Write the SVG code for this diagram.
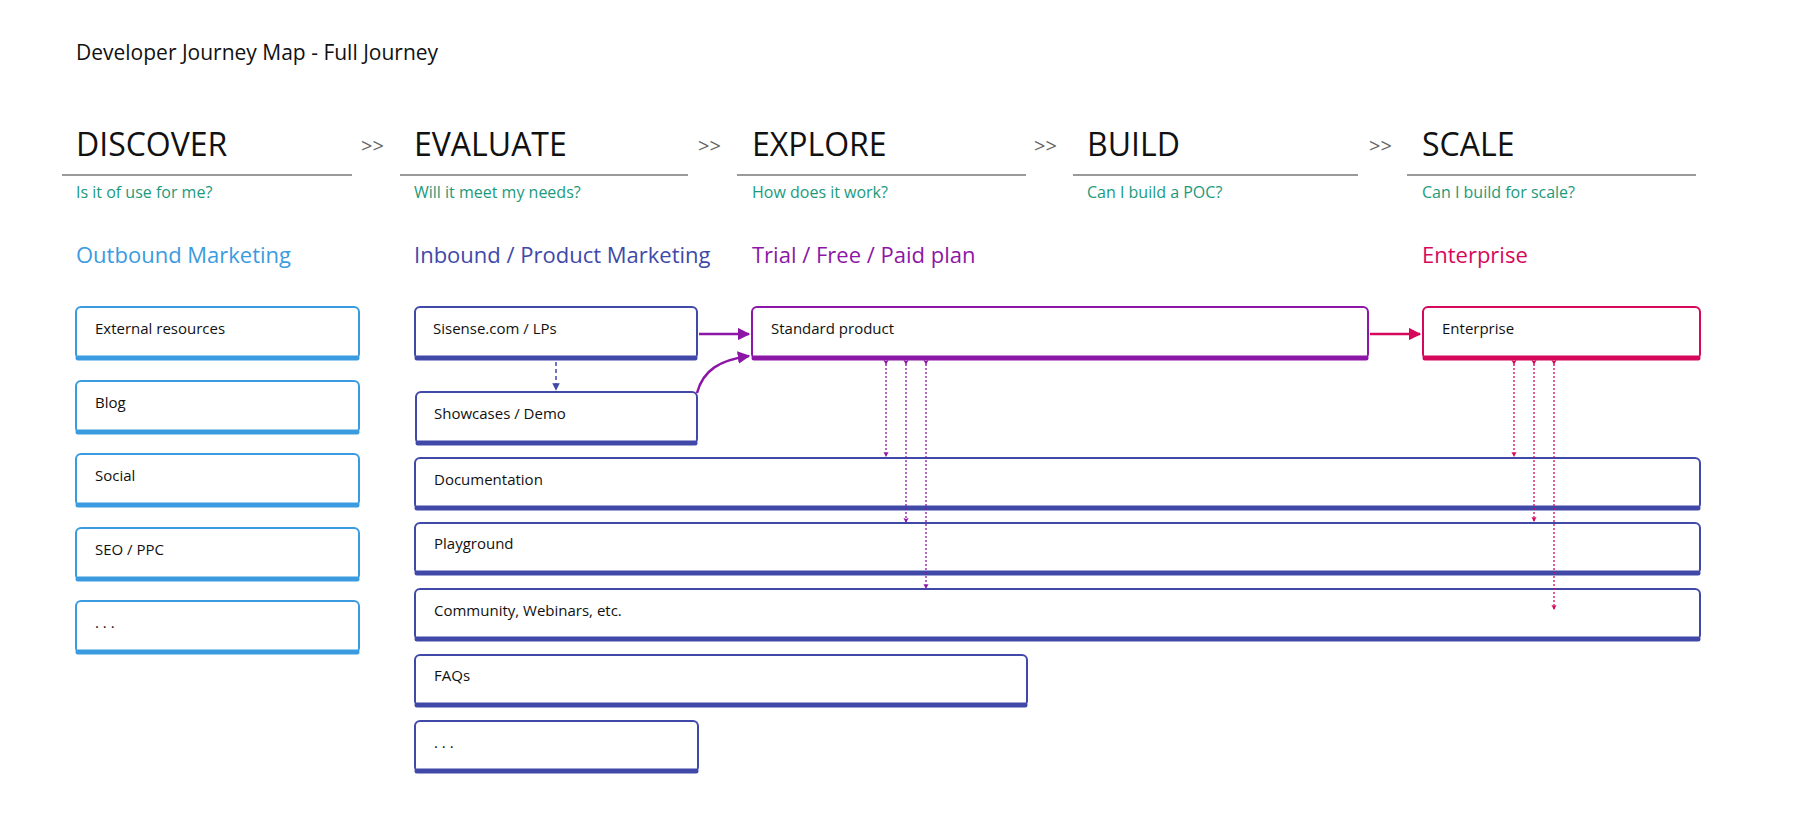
<svg xmlns="http://www.w3.org/2000/svg" width="1800" height="833" viewBox="0 0 1800 833">
<defs>
<style>
text{font-family:"Open Sans","Liberation Sans",sans-serif;}
.title{font-size:21px;fill:#111}
.h{font-size:32px;fill:#111}
.sep{font-size:20px;fill:#666}
.q{font-size:16px;fill:#1b9a7c}
.cat{font-size:22px}
.lbl{font-size:15px;fill:#111}
.ul{stroke:#9a9a9a;stroke-width:2}
.box{fill:#fff;stroke-width:2}
.blue{stroke:#3a9be0}.ind{stroke:#4149a8}.pur{stroke:#8c16a6}.red{stroke:#d6085c}
.bar{stroke-width:5;stroke-linecap:round}
.dot{stroke-width:1.3;stroke-dasharray:2 2;fill:none}
</style>
<marker id="ap" viewBox="0 0 10 10" refX="9" refY="5" markerWidth="5" markerHeight="5" orient="auto-start-reverse"><path d="M0,0L10,5L0,10z" fill="#8c16a6"/></marker>
<marker id="ar" viewBox="0 0 10 10" refX="9" refY="5" markerWidth="5" markerHeight="5" orient="auto-start-reverse"><path d="M0,0L10,5L0,10z" fill="#d6085c"/></marker>
<marker id="ai" viewBox="0 0 10 10" refX="9" refY="5" markerWidth="5" markerHeight="5" orient="auto"><path d="M0,0L10,5L0,10z" fill="#4149a8"/></marker>
<marker id="bp" viewBox="0 0 10 10" refX="8" refY="5" markerWidth="4" markerHeight="4" orient="auto"><path d="M0,0L10,5L0,10L2,5z" fill="#8c16a6"/></marker>
<marker id="br" viewBox="0 0 10 10" refX="8" refY="5" markerWidth="4" markerHeight="4" orient="auto"><path d="M0,0L10,5L0,10L2,5z" fill="#d6085c"/></marker>
</defs>
<rect width="1800" height="833" fill="#fff"/>
<text class="title" x="76" y="60">Developer Journey Map - Full Journey</text>
<g id="headers">
<text class="h" x="76" y="156">DISCOVER</text><line class="ul" x1="62" y1="175" x2="352" y2="175"/>
<text class="sep" x="361" y="153">&gt;&gt;</text>
<text class="h" x="414" y="156">EVALUATE</text><line class="ul" x1="400" y1="175" x2="688" y2="175"/>
<text class="sep" x="698" y="153">&gt;&gt;</text>
<text class="h" x="752" y="156">EXPLORE</text><line class="ul" x1="737" y1="175" x2="1026" y2="175"/>
<text class="sep" x="1034" y="153">&gt;&gt;</text>
<text class="h" x="1087" y="156">BUILD</text><line class="ul" x1="1073" y1="175" x2="1358" y2="175"/>
<text class="sep" x="1369" y="153">&gt;&gt;</text>
<text class="h" x="1422" y="156">SCALE</text><line class="ul" x1="1407" y1="175" x2="1696" y2="175"/>
<text class="q" x="76" y="198">Is it of use for me?</text>
<text class="q" x="414" y="198">Will it meet my needs?</text>
<text class="q" x="752" y="198">How does it work?</text>
<text class="q" x="1087" y="198">Can I build a POC?</text>
<text class="q" x="1422" y="198">Can I build for scale?</text>
<text class="cat" x="76" y="263" fill="#3a9be0">Outbound Marketing</text>
<text class="cat" x="414" y="263" fill="#4149a8">Inbound / Product Marketing</text>
<text class="cat" x="752" y="263" fill="#8c16a6">Trial / Free / Paid plan</text>
<text class="cat" x="1422" y="263" fill="#d6085c">Enterprise</text>
</g>
<g id="n-ext"><rect class="box blue" x="76" y="307" width="283" height="52" rx="5"/><line class="bar blue" x1="78" y1="358" x2="357" y2="358"/><text class="lbl" x="95" y="334">External resources</text></g>
<g id="n-blog"><rect class="box blue" x="76" y="381" width="283" height="52" rx="5"/><line class="bar blue" x1="78" y1="432" x2="357" y2="432"/><text class="lbl" x="95" y="408">Blog</text></g>
<g id="n-social"><rect class="box blue" x="76" y="454" width="283" height="52" rx="5"/><line class="bar blue" x1="78" y1="505" x2="357" y2="505"/><text class="lbl" x="95" y="481">Social</text></g>
<g id="n-seo"><rect class="box blue" x="76" y="528" width="283" height="52" rx="5"/><line class="bar blue" x1="78" y1="579" x2="357" y2="579"/><text class="lbl" x="95" y="555">SEO / PPC</text></g>
<g id="n-more1"><rect class="box blue" x="76" y="601" width="283" height="52" rx="5"/><line class="bar blue" x1="78" y1="652" x2="357" y2="652"/><text class="lbl" x="95" y="628">. . .</text></g>
<g id="n-sisense"><rect class="box ind" x="415" y="307" width="282" height="52" rx="5"/><line class="bar ind" x1="417" y1="358" x2="695" y2="358"/><text class="lbl" x="433" y="334">Sisense.com / LPs</text></g>
<g id="n-showcase"><rect class="box ind" x="416" y="392" width="281" height="52" rx="5"/><line class="bar ind" x1="418" y1="443" x2="695" y2="443"/><text class="lbl" x="434" y="419">Showcases / Demo</text></g>
<g id="n-standard"><rect class="box pur" x="752" y="307" width="616" height="52" rx="5"/><line class="bar pur" x1="754" y1="358" x2="1366" y2="358"/><text class="lbl" x="771" y="334">Standard product</text></g>
<g id="n-enterprise"><rect class="box red" x="1423" y="307" width="277" height="52" rx="5"/><line class="bar red" x1="1425" y1="358" x2="1698" y2="358"/><text class="lbl" x="1442" y="334">Enterprise</text></g>
<g id="n-doc"><rect class="box ind" x="415" y="458" width="1285" height="51" rx="5"/><line class="bar ind" x1="417" y1="508" x2="1698" y2="508"/><text class="lbl" x="434" y="485">Documentation</text></g>
<g id="n-play"><rect class="box ind" x="415" y="523" width="1285" height="51" rx="5"/><line class="bar ind" x1="417" y1="573" x2="1698" y2="573"/><text class="lbl" x="434" y="549">Playground</text></g>
<g id="n-comm"><rect class="box ind" x="415" y="589" width="1285" height="51" rx="5"/><line class="bar ind" x1="417" y1="639" x2="1698" y2="639"/><text class="lbl" x="434" y="616">Community, Webinars, etc.</text></g>
<g id="n-faq"><rect class="box ind" x="415" y="655" width="612" height="51" rx="5"/><line class="bar ind" x1="417" y1="705" x2="1025" y2="705"/><text class="lbl" x="434" y="681">FAQs</text></g>
<g id="n-more2"><rect class="box ind" x="415" y="721" width="283" height="51" rx="5"/><line class="bar ind" x1="417" y1="771" x2="696" y2="771"/><text class="lbl" x="434" y="748">. . .</text></g>
<g id="connectors">
<line x1="699" y1="334" x2="749" y2="334" stroke="#8c16a6" stroke-width="2.5" marker-end="url(#ap)"/>
<path d="M697,393 C703,370 720,360 749,356" fill="none" stroke="#8c16a6" stroke-width="2.5" marker-end="url(#ap)"/>
<line x1="1370" y1="334" x2="1420" y2="334" stroke="#d6085c" stroke-width="2.5" marker-end="url(#ar)"/>
<line x1="556" y1="362" x2="556" y2="390" stroke="#4149a8" stroke-width="1.5" stroke-dasharray="4 3" marker-end="url(#ai)"/>
<line class="dot" x1="886" y1="364" x2="886" y2="456" stroke="#8c16a6" marker-start="url(#bp)" marker-end="url(#bp)"/>
<line class="dot" x1="906" y1="364" x2="906" y2="522" stroke="#8c16a6" marker-start="url(#bp)" marker-end="url(#bp)"/>
<line class="dot" x1="926" y1="364" x2="926" y2="588" stroke="#8c16a6" marker-start="url(#bp)" marker-end="url(#bp)"/>
<line class="dot" x1="1514" y1="364" x2="1514" y2="456" stroke="#d6085c" marker-start="url(#br)" marker-end="url(#br)"/>
<line class="dot" x1="1534" y1="364" x2="1534" y2="521" stroke="#d6085c" marker-start="url(#br)" marker-end="url(#br)"/>
<line class="dot" x1="1554" y1="364" x2="1554" y2="609" stroke="#d6085c" marker-start="url(#br)" marker-end="url(#br)"/>
</g>
</svg>
